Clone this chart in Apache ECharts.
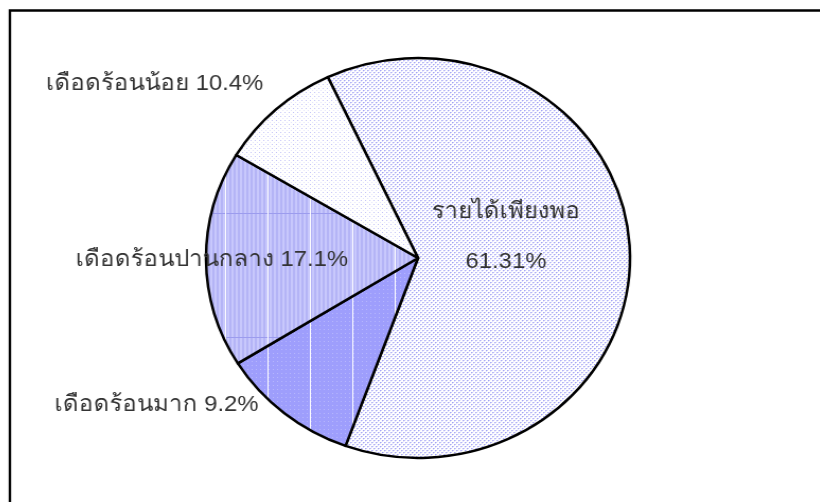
<!DOCTYPE html>
<html>
<head>
<meta charset="utf-8">
<script src="https://cdn.jsdelivr.net/npm/echarts@6/dist/echarts.min.js"></script>
<style>
  html, body { margin: 0; padding: 0; background: #fff; overflow: hidden; }
  /* the original pie is a slightly wide ellipse, so stretch the drawing a bit */
  #pie { width: 820px; height: 502px; transform: scale(1.06, 1); transform-origin: 418px 258px; }
</style>
</head>
<body>
<div id="pie"></div>
<script>
// slices clockwise from the top-left, sizes as drawn in the picture
const categories = ['รายได้เพียงพอ', 'เดือดร้อนมาก', 'เดือดร้อนปานกลาง', 'เดือดร้อนน้อย'];
const sliceValues = [61.31, 10.4, 17.1, 9.2];
// percentages printed on the labels
const labelPercents = ['61.31%', '9.2%', '17.1%', '10.4%'];

// small canvas tiles to mimic the office-style fill patterns
function makeTile(w, h, draw) {
    const c = document.createElement('canvas');
    c.width = w;
    c.height = h;
    draw(c.getContext('2d'));
    return { image: c, repeat: 'repeat' };
}

const dotsDense = makeTile(4, 4, (g) => {
    g.fillStyle = '#ffffff'; g.fillRect(0, 0, 4, 4);
    g.fillStyle = '#a4a4f4'; g.fillRect(0, 0, 1, 1); g.fillRect(2, 2, 1, 1);
    g.fillStyle = '#ccccfa'; g.fillRect(1, 0, 1, 1); g.fillRect(3, 2, 1, 1);
    g.fillStyle = '#dedefc'; g.fillRect(0, 1, 1, 1); g.fillRect(2, 3, 1, 1);
});
const dotsSparse = makeTile(4, 4, (g) => {
    g.fillStyle = '#ffffff'; g.fillRect(0, 0, 4, 4);
    g.fillStyle = '#c4c4f8'; g.fillRect(0, 0, 1, 1);
    g.fillStyle = '#e4e4fc'; g.fillRect(2, 2, 1, 1);
});
const stripesLight = makeTile(40, 124, (g) => {
    g.fillStyle = '#c8c8fc'; g.fillRect(0, 0, 40, 124);
    g.fillStyle = '#b4b4f6';
    for (let x = 0; x < 40; x += 4) g.fillRect(x, 0, 2, 124);
    g.fillStyle = '#9c9cee'; g.fillRect(0, 89, 40, 1);
    g.fillStyle = '#ffffff'; g.fillRect(36, 0, 1, 124);
});
const stripesDark = makeTile(40, 4, (g) => {
    g.fillStyle = '#9e9efc'; g.fillRect(0, 0, 40, 4);
    g.fillStyle = '#b8b8fc';
    for (let x = 1; x < 40; x += 4) g.fillRect(x, 1, 1, 1);
    g.fillStyle = '#ffffff'; g.fillRect(36, 0, 1, 4);
});
const fills = [dotsDense, stripesDark, stripesLight, dotsSparse];

// where each label sits (before the horizontal stretch)
const labelSpots = [
    { x: 501, y: 237, align: 'center' },
    { x: 75, y: 405, align: 'left' },
    { x: 95, y: 260, align: 'left' },
    { x: 67, y: 84, align: 'left' }
];

const chart = echarts.init(document.getElementById('pie'));

const option = {
    animation: false,
    graphic: [{
        type: 'rect',
        shape: { x: 33, y: 10.5, width: 900, height: 700 },
        style: { fill: 'none', stroke: '#000', lineWidth: 2.4 },
        silent: true,
        z: 10
    }],
    series: [{
        type: 'pie',
        center: [418, 258],
        radius: 200,
        startAngle: 115.2,
        clockwise: true,
        data: categories.map((name, i) => ({
            name: name,
            value: sliceValues[i],
            itemStyle: { color: fills[i] }
        })),
        itemStyle: { borderColor: '#000', borderWidth: 2.5 },
        emphasis: { disabled: true },
        labelLine: { show: false },
        label: {
            show: true,
            position: 'outside',
            overflow: 'none',
            color: '#333',
            fontFamily: 'sans-serif',
            fontSize: 22.5,
            lineHeight: 50,
            formatter: (p) => p.dataIndex === 0
                ? p.name + '\n' + labelPercents[0]
                : p.name + ' ' + labelPercents[p.dataIndex]
        },
        labelLayout: (params) => {
            const s = labelSpots[params.dataIndex];
            return { x: s.x, y: s.y, align: s.align, verticalAlign: 'middle', hideOverlap: false };
        }
    }]
};

chart.setOption(option);
</script>
</body>
</html>
